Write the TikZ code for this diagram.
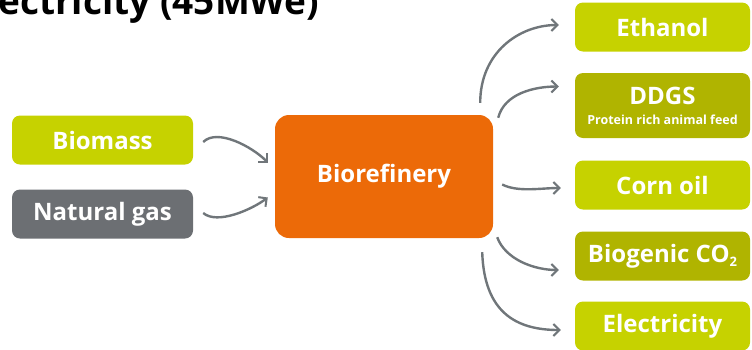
\documentclass[tikz,border=0pt]{standalone}
\usepackage{fontspec}
\setmainfont{Open Sans}[BoldFont={* Bold}]
\usetikzlibrary{arrows.meta}
\definecolor{lime}{RGB}{198,210,0}
\definecolor{olive}{RGB}{176,180,0}
\definecolor{slate}{RGB}{108,111,115}
\definecolor{flame}{RGB}{236,106,8}
\definecolor{wire}{RGB}{112,118,122}
\begin{document}
\begin{tikzpicture}[x=1pt,y=-1pt,
  box/.style={rounded corners=8pt, inner sep=0pt, text=white,
    font=\bfseries\fontsize{24}{28}\selectfont, align=center},
  inbox/.style={box, minimum width=181pt, minimum height=49pt},
  outbox/.style={box, minimum width=175pt, minimum height=49pt},
  flow/.style={wire, line width=2.4pt,
    -{Straight Barb[length=6pt,width=12pt,line width=2pt]}}]
\useasboundingbox (0,0) rectangle (752,349);
\begin{scope}
\clip (0,0) rectangle (752,349);
% heading cut off along the top edge
\node[anchor=base west, inner sep=0pt,
  font=\bfseries\fontsize{37}{44}\selectfont] (head) at (-34,14)
  {Electricity (45MWe)};

% inputs
\node[inbox, fill=lime]  (bio) at (102.5,140) {Biomass};
\node[inbox, fill=slate] (gas) at (102.5,214) {Natural gas};

% central plant
\node[box, fill=flame, rounded corners=14pt,
  minimum width=218pt, minimum height=123pt] (ref) at (384,176.5) {Biorefinery};

% products
\node[outbox, fill=lime]  (eth)  at (662.5,27)  {Ethanol};
\node[outbox, fill=olive, minimum height=65pt] (ddgs) at (662.5,105.5)
  {DDGS\\[-8pt]{\fontsize{12.5}{14}\selectfont Protein rich animal feed}};
\node[outbox, fill=lime]  (corn) at (662.5,185) {Corn oil};
\node[outbox, fill=olive] (co2)  at (662.5,256) {Biogenic CO\raisebox{-4pt}{\fontsize{13}{14}\selectfont 2}};
\node[outbox, fill=lime]  (elec) at (662.5,326) {Electricity};

% inputs feeding the plant
\draw[flow] ([shift={(10,2)}]bio.east)
  .. controls +(14,-14) and +(-16,-16) .. ([shift={(-7,-14)}]ref.west);
\draw[flow] ([shift={(10,-1)}]gas.east)
  .. controls +(14,12) and +(-16,12) .. ([shift={(-7,21)}]ref.west);

% plant outputs
\draw[flow] ([shift={(-13,-12)}]ref.north east)
  .. controls +(0,-50) and +(-40,0) .. ([shift={(-16,-2)}]eth.west);
\draw[flow] ([shift={(5,3)}]ref.north east)
  .. controls +(6,-24) and +(-25,0) .. ([shift={(-16,-19)}]ddgs.west);
\draw[flow] ([shift={(9,8)}]ref.east)
  .. controls +(16,8) and +(-20,0) .. ([shift={(-14,3)}]corn.west);
\draw[flow] ([shift={(4,-1)}]ref.south east)
  .. controls +(8,22) and +(-25,0) .. ([shift={(-16,14)}]co2.west);
\draw[flow] ([shift={(-11,14)}]ref.south east)
  .. controls +(2,60) and +(-45,0) .. ([shift={(-14,4)}]elec.west);
\end{scope}
\end{tikzpicture}
\end{document}
